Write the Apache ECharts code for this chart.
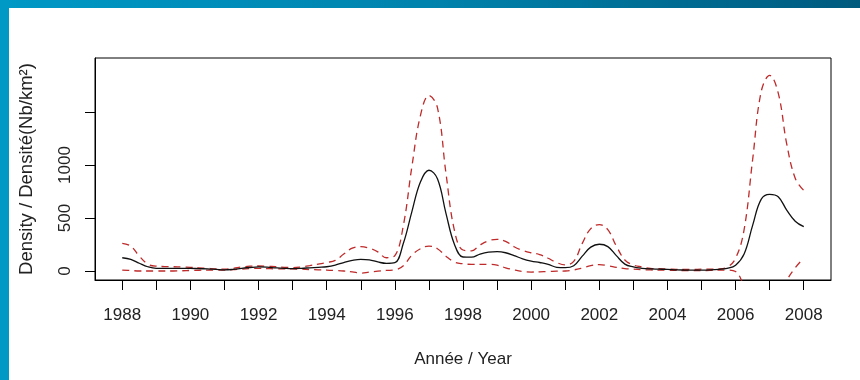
<!DOCTYPE html>
<html><head><meta charset="utf-8">
<script src="https://cdn.jsdelivr.net/npm/echarts@6/dist/echarts.min.js"></script>
<style>html,body{margin:0;padding:0;background:#fff}#c{width:860px;height:380px}</style>
</head><body><div id="c"></div>
<script>
const years = [1988,1988.25,1988.5,1988.75,1989,1989.25,1989.5,1989.75,1990,1990.25,1990.5,1990.75,
1991,1991.25,1991.5,1991.75,1992,1992.25,1992.5,1992.75,1993,1993.25,1993.5,1993.75,
1994,1994.25,1994.5,1994.75,1995,1995.25,1995.5,1995.75,1996,1996.25,1996.5,1996.75,
1997,1997.25,1997.5,1997.75,1998,1998.25,1998.5,1998.75,1999,1999.25,1999.5,1999.75,
2000,2000.25,2000.5,2000.75,2001,2001.25,2001.5,2001.75,2002,2002.25,2002.5,2002.75,
2003,2003.25,2003.5,2003.75,2004,2004.25,2004.5,2004.75,2005,2005.25,2005.5,2005.75,
2006,2006.25,2006.5,2006.75,2007,2007.25,2007.5,2007.75,2008];
const density = [125,110,73,40,25,25,25,25,25,22,20,15,
10,15,25,33,38,36,30,25,22,25,30,35,
40,55,80,100,110,105,85,72,78,261,560,840,
950,870,544,250,132,130,160,178,182,172,145,115,
94,80,63,35,31,50,140,225,252,230,145,65,
38,25,19,17,15,11,9,8,8,10,15,25,
55,160,430,675,722,700,575,470,418];
const upper = [261,235,140,65,45,42,40,38,35,30,25,20,
18,25,38,45,47,45,40,35,32,38,50,65,
80,100,160,215,230,215,180,125,145,430,985,1465,
1655,1540,922,380,198,190,245,285,298,280,229,195,
172,155,120,79,58,90,260,400,438,390,235,104,
57,38,25,21,19,16,14,15,17,18,19,35,
120,390,1050,1690,1845,1680,1200,875,760];
const lower = [9,5,0,0,0,0,0,2,5,7,8,8,
8,12,18,22,25,23,20,19,19,17,14,11,
9,5,0,-8,-20,-10,-2,5,10,50,150,210,
235,210,140,85,68,63,63,63,55,30,10,-5,
-10,-8,-5,-2,0,10,28,50,60,50,35,22,
17,13,10,8,7,5,4,3,3,5,8,9,
-5,-150,-350,-500,-550,-420,-100,30,120];
const xTicks = [1988,1989,1990,1991,1992,1993,1994,1995,1996,1997,1998,1999,2000,2001,2002,2003,2004,2005,2006,2007,2008];
const xLabels = [1988,1990,1992,1994,1996,1998,2000,2002,2004,2006,2008];
const yTicks = [0,500,1000,1500];
const yLabels = [0,500,1000];

const pairs = arr => years.map((y,i)=>[y,arr[i]]);
const FONT = '"Liberation Sans", Arial, sans-serif';
const chart = echarts.init(document.getElementById('c'), null, {renderer:'canvas'});
chart.setOption({
  animation:false,
  backgroundColor:'#fff',
  graphic:[
    {type:'rect', shape:{x:0,y:0,width:860,height:8}, style:{fill:new echarts.graphic.LinearGradient(0,0,1,0,[{offset:0,color:'#0098c6'},{offset:0.5,color:'#0083ad'},{offset:1,color:'#005a7e'}])}, z:10},
    {type:'rect', shape:{x:0,y:0,width:9,height:380}, style:{fill:'#0099c6'}, z:10}
  ],
  grid:{left:95,right:29,top:58,bottom:100,show:true,borderColor:'#000',borderWidth:1,backgroundColor:'transparent'},
  xAxis:{type:'value',min:1987.2,max:2008.8,
    axisLine:{show:true,onZero:false,lineStyle:{color:'#000',width:1}},
    axisTick:{show:true,customValues:xTicks,length:10,lineStyle:{color:'#000',width:1}},
    axisLabel:{customValues:xLabels,formatter:v=>String(v),fontSize:17,fontFamily:FONT,color:'#222',margin:27},
    splitLine:{show:false},
    name:'Année / Year',nameLocation:'middle',nameGap:71,
    nameTextStyle:{fontSize:17,fontFamily:FONT,color:'#222'}},
  yAxis:{type:'value',min:-85,max:2009,
    axisLine:{show:true,onZero:false,lineStyle:{color:'#000',width:1}},
    axisTick:{show:true,customValues:yTicks,length:10,lineStyle:{color:'#000',width:1}},
    axisLabel:{customValues:yLabels,formatter:v=>String(v),rotate:90,fontSize:17,fontFamily:FONT,color:'#222',margin:21},
    splitLine:{show:false},
    name:'Density / Densité(Nb/km²)',nameLocation:'middle',nameGap:59,nameRotate:90,
    nameTextStyle:{fontSize:18.5,fontFamily:FONT,color:'#222'}},
  series:[
    {type:'line',data:pairs(upper),smooth:0.4,symbol:'none',clip:true,
     lineStyle:{color:'#bf2a2a',width:1.3,type:[7,5]}},
    {type:'line',data:pairs(lower),smooth:0.4,symbol:'none',clip:true,
     lineStyle:{color:'#bf2a2a',width:1.3,type:[7,5]}},
    {type:'line',data:pairs(density),smooth:0.4,symbol:'none',clip:true,
     lineStyle:{color:'#111',width:1.3}}
  ]
});
</script></body></html>
